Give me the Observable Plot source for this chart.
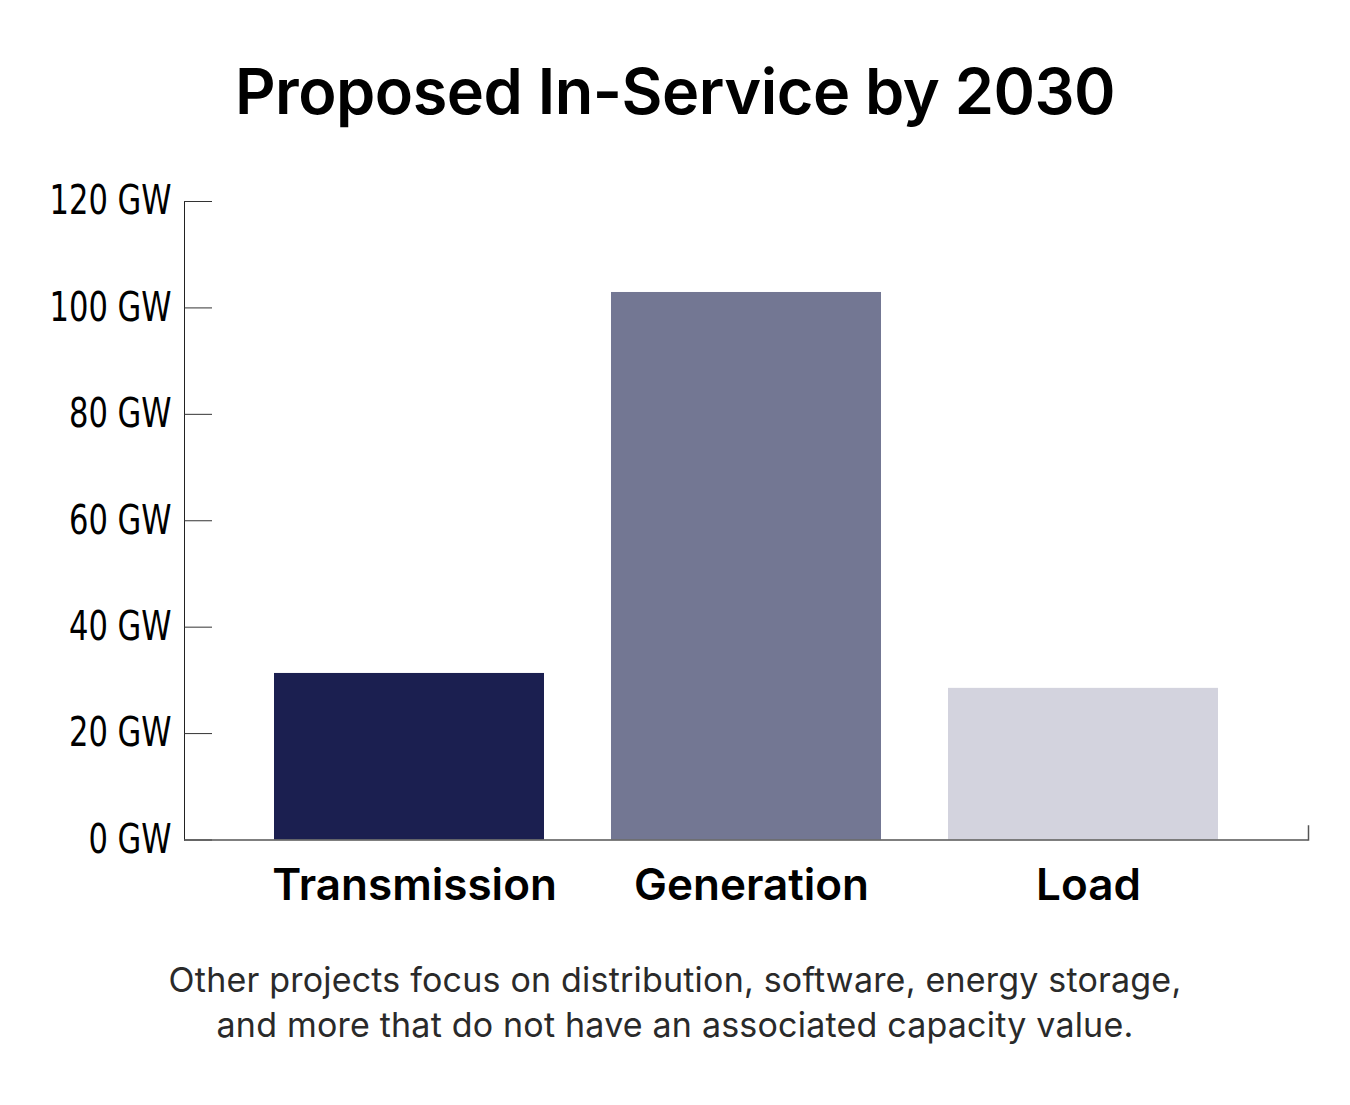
<!DOCTYPE html>
<html>
<head>
<meta charset="utf-8">
<script src="https://cdn.jsdelivr.net/npm/d3@7"></script>
<script src="https://cdn.jsdelivr.net/npm/@observablehq/plot@0.6"></script>
<style>
  html, body { margin: 0; padding: 0; background: #fff; }
  #wrap { position: relative; width: 1350px; height: 1105px; overflow: hidden; }
  #title { position: absolute; left: 0; width: 1350px; top: 60px; text-align: center;
    font-family: Inter, "Open Sans", sans-serif; font-weight: 600; font-size: 63px; color: #000; letter-spacing: -0.5px; line-height: 1; }
  #chart { position: absolute; left: 0; top: 180px; }
  #caption { position: absolute; left: 0; width: 1350px; top: 957px; text-align: center;
    font-family: Inter, "Open Sans", sans-serif; font-weight: 400; font-size: 34px; color: #2a2a2a; line-height: 45px; letter-spacing: 0.2px; }
</style>
</head>
<body>
<div id="wrap">
  <div id="title">Proposed In-Service by 2030</div>
  <div id="chart"></div>
  <div id="caption">Other projects focus on distribution, software, energy storage,<br>and more that do not have an associated capacity value.</div>
</div>
<script>
const categories = ["Transmission", "Generation", "Load"];
const values = [31.3, 102.9, 28.5];
const colors = ["#1b1f50", "#737793", "#d3d3de"];
const yTicks = [0, 20, 40, 60, 80, 100, 120];

const data = categories.map((c, i) => ({category: c, value: values[i]}));

const W = 1350, H = 740, mL = 184, mR = 42, mT = 21, mB = 80.5;
const innerW = W - mL - mR;
const innerH = H - mT - mB;

const chart = Plot.plot({
  width: W,
  height: H,
  marginLeft: mL,
  marginRight: mR,
  marginTop: mT,
  marginBottom: mB,
  style: {background: "#fff", overflow: "visible"},
  x: {domain: categories, paddingInner: 0.2, paddingOuter: 0.265, label: null},
  y: {domain: [0, 120], label: null},
  color: {domain: categories, range: colors},
  marks: [
    Plot.barY(data, {x: "category", y: "value", fill: "category"}),
    Plot.frame({anchor: "left", stroke: "#222", strokeWidth: 1}),
    Plot.tickY(yTicks, {y: d => d, insetRight: innerW - 28, stroke: "#333", strokeWidth: 1}),
    Plot.ruleY([0], {stroke: "#555", strokeWidth: 1.5}),
    Plot.frame({anchor: "right", insetTop: innerH - 14, stroke: "#555", strokeWidth: 1.5}),
    Plot.axisY({
      ticks: yTicks,
      tickFormat: d => `${d} GW`,
      tickSize: 0,
      tickPadding: 13,
      fontSize: 40,
      fontFamily: "'DejaVu Sans Condensed', sans-serif",
      fill: "#000",
      label: null
    }),
    Plot.axisX({
      tickSize: 0,
      tickPadding: 29,
      dx: 5,
      fontSize: 44,
      fontWeight: 600,
      fontFamily: "Inter, 'Open Sans', sans-serif",
      fill: "#000",
      label: null
    })
  ]
});

// horizontally condense the y tick labels (narrow face), keeping right edge fixed
d3.select(chart).selectAll("g[aria-label='y-axis tick label'] text").each(function() {
  const t = d3.select(this);
  const tr = t.attr("transform");
  if (tr) {
    t.attr("transform", tr + " scale(0.85,1)");
  } else {
    const x = +t.attr("x") || 0, y = +t.attr("y") || 0;
    t.attr("x", null).attr("y", null).attr("transform", `translate(${x},${y}) scale(0.85,1)`);
  }
});

document.getElementById("chart").appendChild(chart);
</script>
</body>
</html>
